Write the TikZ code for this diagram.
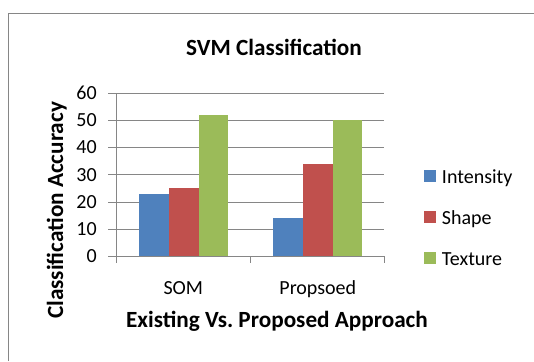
\documentclass[tikz,border=0pt]{standalone}
\usepackage{fontspec}
\setmainfont{Carlito}
\definecolor{intensitycol}{HTML}{4F81BD}
\definecolor{shapecol}{HTML}{C0504D}
\definecolor{texturecol}{HTML}{9BBB59}
\definecolor{axisgray}{HTML}{868686}
\tikzset{
  lbl/.style={inner sep=0pt,font=\fontsize{15}{18}\selectfont},
  ttl/.style={inner sep=0pt,font=\fontsize{17.4}{21}\selectfont\bfseries}
}
\begin{document}
\begin{tikzpicture}[x=0.75pt,y=-0.75pt,line join=round]
  \useasboundingbox (0,0) rectangle (534,361);
  \draw[axisgray] (8,361)--(8,13)--(534,13);
  \node[ttl,anchor=base] (title) at (274,55.5) {SVM Classification};
  % grid and values
  \foreach \v in {0,10,...,60}{
    \draw[axisgray] (108,{256-2.712*\v})--(384,{256-2.712*\v});
    \node[lbl,anchor=east] (y\v) at (97,{256-2.712*\v}) {\v};
  }
  % bars
  \foreach \x/\h/\c in {139.3/23/intensitycol,168.9/25/shapecol,198.5/52/texturecol,
                        273.3/14/intensitycol,302.9/34/shapecol,332.5/50/texturecol}
    \fill[fill=\c] (\x,256) rectangle ++(29.6,{-2.712*\h});
  \draw[axisgray] (116,93.3)--(116,256)--(384,256);
  \foreach \x in {116,250,384}
    \draw[axisgray] (\x,256)--(\x,263);
  \node[lbl,anchor=base] (som) at (183.3,294.3) {SOM};
  \node[lbl,anchor=base] (prop) at (317.8,294.3) {Propsoed};
  \node[ttl,anchor=base] (xlabel) at (277,327.3) {Existing Vs.\ Proposed Approach};
  \node[ttl,anchor=base,rotate=90] (ylabel) at (63,210.4) {Classification Accuracy};
  % legend
  \foreach \y/\c/\t [count=\n] in {170/intensitycol/Intensity,211/shapecol/Shape,252/texturecol/Texture}{
    \fill[fill=\c] (424,\y) rectangle ++(12,12);
    \node[lbl,anchor=base west] (leg\n) at (441.7,{\y+13.3}) {\t};
  }
\end{tikzpicture}
\end{document}
